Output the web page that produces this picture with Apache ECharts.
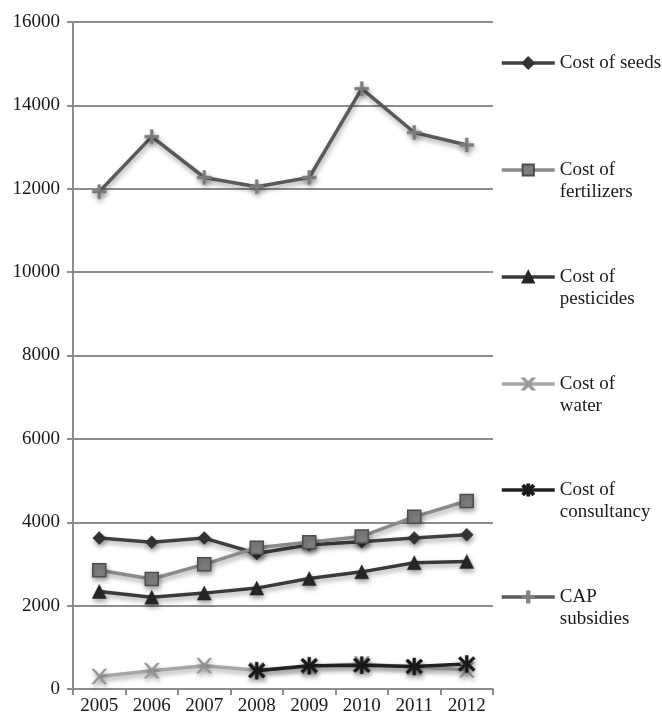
<!DOCTYPE html>
<html><head><meta charset="utf-8">
<script src="https://cdn.jsdelivr.net/npm/echarts@6/dist/echarts.min.js"></script>
<style>html,body{margin:0;padding:0;background:#fff}#c{width:662px;height:721px}</style>
</head><body><div id="c"></div>
<script>
var years = ['2005','2006','2007','2008','2009','2010','2011','2012'];
var seriesNames = ['Cost of seeds','Cost of fertilizers','Cost of pesticides','Cost of water','Cost of consultancy','CAP subsidies'];
var legendLabels = ['Cost of seeds','Cost of\nfertilizers','Cost of\npesticides','Cost of\nwater','Cost of\nconsultancy','CAP\nsubsidies'];
var seeds = [3620, 3520, 3620, 3250, 3460, 3530, 3620, 3700];
var fertilizers = [2850, 2640, 2990, 3390, 3520, 3660, 4130, 4510];
var pesticides = [2340, 2200, 2300, 2420, 2650, 2810, 3030, 3060];
var water = [300, 440, 560, 450, 540, 600, 520, 460];
var consultancy = [null, null, null, 440, 560, 570, 540, 600];
var cap = [11930, 13250, 12270, 12050, 12270, 14400, 13350, 13050];
var yTicks = {min: 0, max: 16000, interval: 2000};

var values = [seeds, fertilizers, pesticides, water, consultancy, cap];
var lineColors = ['#404040','#8a8a8a','#3a3a3a','#a6a6a6','#222222','#5a5a5a'];
var markerColors = ['#333333','#7f7f7f','#262626','#999999','#1a1a1a','#808080'];
var markerBorders = ['#333333','#4d4d4d','#262626','#999999','#1a1a1a','#808080'];
var symbols = [
  'diamond',
  'rect',
  'triangle',
  'path://M0,0 L1.6,0 L5,3.8 L8.4,0 L10,0 L5.8,5 L10,10 L8.4,10 L5,6.2 L1.6,10 L0,10 L4.2,5 Z',
  'path://M4.2,0 H5.8 V3.6 L8.6,0.6 L9.8,1.8 L6.6,5 L9.8,8.2 L8.6,9.4 L5.8,6.4 V10 H4.2 V6.4 L1.4,9.4 L0.2,8.2 L3.4,5 L0.2,1.8 L1.4,0.6 L4.2,3.6 Z',
  'path://M4,0 H6 V4 H10 V6 H6 V10 H4 V6 H0 V4 H4 Z'
];
var symbolSizes = [13, 13, 14, 15, 17, 14];

var font = '"Liberation Serif", "Times New Roman", serif';
var series = [];
for (var i = 0; i < values.length; i++) {
  series.push({
    name: seriesNames[i], type: 'line', data: values[i],
    symbol: symbols[i], symbolSize: symbolSizes[i], showAllSymbol: true,
    connectNulls: false,
    lineStyle: {color: lineColors[i], width: 3.5, shadowColor: 'rgba(0,0,0,0.35)', shadowBlur: 5, shadowOffsetX: 1, shadowOffsetY: 3},
    itemStyle: {color: markerColors[i], borderColor: markerBorders[i], borderWidth: i === 1 ? 1.5 : 0.5, shadowColor: 'rgba(0,0,0,0.35)', shadowBlur: 5, shadowOffsetX: 1, shadowOffsetY: 3},
    emphasis: {disabled: true}
  });
}
var legendCenters = [63, 170, 277, 384, 490, 597];
var legends = [];
for (var j = 0; j < seriesNames.length; j++) {
  var two = legendLabels[j].indexOf('\n') >= 0;
  legends.push({
    left: 500, top: two ? legendCenters[j] - 33 : legendCenters[j] - 11,
    padding: 0, orient: 'vertical', itemWidth: 53, itemHeight: 14, itemGap: 0,
    selectedMode: false,
    data: [{name: seriesNames[j]}],
    lineStyle: {width: 3.5, shadowBlur: 0},
    itemStyle: {shadowBlur: 0},
    formatter: (function (lbl, t) { return function () { return t ? ' \n' + lbl : lbl; }; })(legendLabels[j], two),
    textStyle: {fontFamily: font, fontSize: 19, color: '#1a1a1a', lineHeight: 22}
  });
}

var chart = echarts.init(document.getElementById('c'), null, {renderer: 'canvas'});
chart.setOption({
  animation: false,
  backgroundColor: '#ffffff',
  grid: {left: 73, right: 169, top: 22, bottom: 32, containLabel: false},
  legend: legends,
  xAxis: {
    type: 'category', data: years, boundaryGap: true,
    axisLine: {lineStyle: {color: '#8c8c8c', width: 2}},
    axisTick: {show: true, length: 6, lineStyle: {color: '#8c8c8c', width: 2}},
    axisLabel: {fontFamily: font, fontSize: 19, color: '#1a1a1a', margin: 8}
  },
  yAxis: {
    type: 'value', min: yTicks.min, max: yTicks.max, interval: yTicks.interval,
    axisLine: {show: true, lineStyle: {color: '#8c8c8c', width: 2}},
    axisTick: {show: true, length: 6, lineStyle: {color: '#8c8c8c', width: 2}},
    axisLabel: {fontFamily: font, fontSize: 19, color: '#1a1a1a', margin: 13, formatter: function (v) { return String(v); }},
    splitLine: {show: true, lineStyle: {color: '#8c8c8c', width: 2}}
  },
  series: series
});
</script></body></html>
